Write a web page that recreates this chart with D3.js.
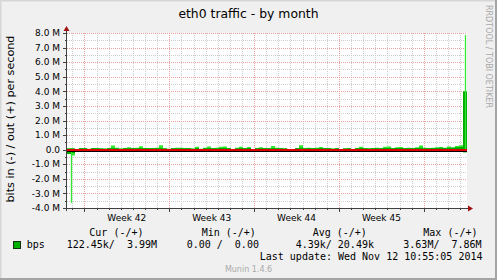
<!DOCTYPE html>
<html><head><meta charset="utf-8">
<script src="https://cdn.jsdelivr.net/npm/d3@7"></script>
<style>html,body{margin:0;padding:0;background:#f0f0f0}svg{display:block}</style>
</head><body><svg id="c" width="497" height="280"></svg>
<script>
const title = "eth0 traffic - by month";
const yAxisTitle = "bits in (-) / out (+) per second";
const sideText = "RRDTOOL / TOBI OETIKER";
const yTickValues = [-4,-3,-2,-1,0,1,2,3,4,5,6,7,8];
const yTickLabels = ["-4.0 M","-3.0 M","-2.0 M","-1.0 M","0.0","1.0 M","2.0 M","3.0 M","4.0 M","5.0 M","6.0 M","7.0 M","8.0 M"];
const weekStarts = ["2014-10-13","2014-10-20","2014-10-27","2014-11-03"];
const weekLabels = ["Week 42","Week 43","Week 44","Week 45"];
const rangeStart = "2014-10-11T13:30:00Z", rangeEnd = "2014-11-13T13:30:00Z";
// out (+) traffic in Mbit/s per bucket: peak (light) and average (dark)
const outPeak = [0.10,0.10,0.00,0.12,0.12,0.06,0.12,0.12,0.10,0.08,
 0.12,0.28,0.14,0.08,0.12,0.16,0.12,0.14,0.24,0.12,
 0.12,0.12,0.14,0.30,0.10,0.06,0.12,0.14,0.14,0.12,
 0.12,0.08,0.20,0.06,0.14,0.22,0.12,0.14,0.20,0.22,
 0.12,0.04,0.14,0.20,0.12,0.18,0.04,0.12,0.16,0.12,
 0.12,0.25,0.14,0.12,0.10,0.00,0.00,0.12,0.30,0.12,
 0.14,0.12,0.14,0.18,0.12,0.12,0.08,0.12,0.03,0.10,
 0.12,0.04,0.12,0.20,0.12,0.10,0.12,0.14,0.12,0.20,
 0.22,0.12,0.16,0.18,0.12,0.14,0.12,0.16,0.28,0.14,
 0.12,0.14,0.16,0.18,0.14,0.22,0.16,0.26,0.30,3.99];
const outAvg = [0.08,0.08,0.00,0.10,0.10,0.05,0.10,0.10,0.08,0.06,
 0.10,0.12,0.10,0.06,0.10,0.10,0.10,0.10,0.12,0.10,
 0.10,0.10,0.10,0.12,0.08,0.05,0.10,0.10,0.10,0.10,
 0.10,0.06,0.12,0.05,0.10,0.12,0.10,0.10,0.12,0.12,
 0.10,0.03,0.10,0.12,0.10,0.12,0.03,0.10,0.10,0.10,
 0.10,0.12,0.10,0.10,0.08,0.00,0.00,0.10,0.14,0.10,
 0.10,0.10,0.10,0.12,0.10,0.10,0.06,0.10,0.02,0.08,
 0.10,0.03,0.10,0.12,0.10,0.08,0.10,0.10,0.10,0.12,
 0.12,0.10,0.12,0.12,0.10,0.10,0.10,0.12,0.14,0.10,
 0.10,0.12,0.12,0.14,0.12,0.14,0.14,0.16,0.18,3.99];
// in (-) traffic in Mbit/s per bucket (drawn below zero)
const inPeak = [0.30,0.40,0,0,0,0,0,0,0,0, 0,0,0,0,0,0,0,0,0,0, 0,0,0,0,0,0,0,0,0,0, 0,0,0,0,0,0,0,0,0,0,
 0,0,0,0,0,0,0,0,0,0, 0,0,0,0,0,0,0,0,0,0, 0,0,0,0,0,0,0,0,0,0, 0,0,0,0,0,0,0,0,0,0,
 0,0,0,0,0,0,0,0,0,0, 0,0,0,0,0,0,0,0,0,0.18];
const inAvg = [0.30,0.22,0,0,0,0,0,0,0,0, 0,0,0,0,0,0,0,0,0,0, 0,0,0,0,0,0,0,0,0,0, 0,0,0,0,0,0,0,0,0,0,
 0,0,0,0,0,0,0,0,0,0, 0,0,0,0,0,0,0,0,0,0, 0,0,0,0,0,0,0,0,0,0, 0,0,0,0,0,0,0,0,0,0,
 0,0,0,0,0,0,0,0,0,0, 0,0,0,0,0,0,0,0,0,0.18];
const spikeTimes = ["2014-10-11T22:25:00Z","2014-11-13T10:30:00Z"];
const spikeValues = [-3.65, 7.86];
const legendHeaders = ["Cur (-/+)","Min (-/+)","Avg (-/+)","Max (-/+)"];
const legendValues = ["122.45k/  3.99M","0.00 /  0.00","4.39k/ 20.49k","3.63M/  7.86M"];
const seriesName = "bps";
const lastUpdate = "Last update: Wed Nov 12 10:55:05 2014";
const version = "Munin 1.4.6";

const svg = d3.select("#c");
const W = 497, H = 280;
const L = 67, R = 467, T = 33, B = 208;
const t0 = new Date(rangeStart), t1 = new Date(rangeEnd);
const x = d3.scaleUtc().domain([t0, t1]).range([L, R]);
const y = d3.scaleLinear().domain([-4, 8]).range([B, T]);

const darkG = "#00a800", lightG = "#2fe82f";
const minorC = "#cdcdcd", majorC = "#eaa2a2";

// frame
svg.append("rect").attr("width", W).attr("height", H).attr("fill", "#f0f0f0");
svg.append("path").attr("d", `M0,${H}V0H${W}`).attr("fill","none").attr("stroke","#d6d6d6").attr("stroke-width",3);
svg.append("path").attr("d", `M0,${H-1}H${W-1}V0`).attr("fill","none").attr("stroke","#a4a4a4").attr("stroke-width",2);
svg.append("rect").attr("x", L).attr("y", T).attr("width", R - L).attr("height", B - T).attr("fill", "#fff");

const g = svg.append("g").attr("shape-rendering", "crispEdges");
// minor grid
const days = d3.utcDay.range(d3.utcDay.ceil(t0), t1);
g.selectAll(".vd").data(days).join("line")
  .attr("x1", d => Math.round(x(d)) + 0.5).attr("x2", d => Math.round(x(d)) + 0.5)
  .attr("y1", T).attr("y2", B).attr("stroke", minorC).attr("stroke-dasharray", "1,1");
const halfTicks = y.ticks(24);
g.selectAll(".hm").data(halfTicks.filter(v => !yTickValues.includes(v))).join("line")
  .attr("x1", L).attr("x2", R).attr("y1", d => Math.round(y(d)) + 0.5).attr("y2", d => Math.round(y(d)) + 0.5)
  .attr("stroke", minorC).attr("stroke-dasharray", "1,1");
// major grid
const weeks = weekStarts.map(s => new Date(s + "T00:00:00Z"));
const weekLines = d3.utcMonday.range(d3.utcMonday.ceil(t0), t1);
g.selectAll(".vw").data(weekLines).join("line")
  .attr("x1", d => Math.round(x(d)) + 0.5).attr("x2", d => Math.round(x(d)) + 0.5)
  .attr("y1", T).attr("y2", B).attr("stroke", majorC).attr("stroke-dasharray", "1,1");
g.selectAll(".hM").data(yTickValues).join("line")
  .attr("x1", L).attr("x2", R).attr("y1", d => Math.round(y(d)) + 0.5).attr("y2", d => Math.round(y(d)) + 0.5)
  .attr("stroke", majorC).attr("stroke-dasharray", "1,1");

// data
const n = outPeak.length;
const step = (t1 - t0) / n;
const tb = i => new Date(t0.getTime() + i * step);
function stepArea(vals, sign, color) {
  const pts = vals.map((v, i) => ({t: tb(i), v: sign * v}));
  pts.push({t: t1, v: sign * vals[n - 1]});
  const a = d3.area().curve(d3.curveStepAfter).x(d => x(d.t)).y0(y(0)).y1(d => y(d.v));
  svg.append("path").datum(pts).attr("d", a).attr("fill", color);
}
stepArea(outPeak, 1, lightG);
stepArea(inPeak, -1, lightG);
stepArea(outAvg, 1, darkG);
stepArea(inAvg, -1, darkG);
svg.selectAll(".spk").data(spikeTimes.map((s, i) => ({t: new Date(s), v: spikeValues[i]}))).join("line")
  .attr("x1", d => x(d.t)).attr("x2", d => x(d.t)).attr("y1", y(0)).attr("y2", d => y(d.v))
  .attr("stroke", lightG).attr("stroke-width", 1.3);

// zero rule
svg.append("line").attr("x1", L).attr("x2", R).attr("y1", 150).attr("y2", 150)
  .attr("stroke", "#e00000").attr("stroke-width", 2).attr("shape-rendering","crispEdges");
svg.append("line").attr("x1", L).attr("x2", R).attr("y1", 151.5).attr("y2", 151.5)
  .attr("stroke", "#000").attr("stroke-width", 1).attr("shape-rendering","crispEdges");

// axes
const axC = "#404040";
const ax = svg.append("g").attr("shape-rendering", "crispEdges");
ax.append("line").attr("x1", L - 3).attr("x2", R + 2).attr("y1", B + 0.5).attr("y2", B + 0.5).attr("stroke", axC);
ax.append("line").attr("x1", L - 0.5).attr("x2", L - 0.5).attr("y1", B + 3).attr("y2", T - 3).attr("stroke", axC);
ax.selectAll(".yt").data(yTickValues).join("line")
  .attr("x1", L - 4).attr("x2", L).attr("y1", d => Math.round(y(d)) + 0.5).attr("y2", d => Math.round(y(d)) + 0.5).attr("stroke", axC);
ax.selectAll(".ytm").data(halfTicks.filter(v => !yTickValues.includes(v))).join("line")
  .attr("x1", L - 2).attr("x2", L).attr("y1", d => Math.round(y(d)) + 0.5).attr("y2", d => Math.round(y(d)) + 0.5).attr("stroke", axC);
ax.selectAll(".xt").data(days).join("line")
  .attr("x1", d => Math.round(x(d)) + 0.5).attr("x2", d => Math.round(x(d)) + 0.5).attr("y1", B).attr("y2", B + 2).attr("stroke", axC);
ax.selectAll(".xw").data(weekLines).join("line")
  .attr("x1", d => Math.round(x(d)) + 0.5).attr("x2", d => Math.round(x(d)) + 0.5).attr("y1", B).attr("y2", B + 4).attr("stroke", axC);
// arrows
svg.append("path").attr("d", `M${R+1},${B-2.5}L${R+6},${B+0.5}L${R+1},${B+3.5}Z`).attr("fill", "#a01010");
svg.append("path").attr("d", `M${L-3.5},${T-2}L${L-0.5},${T-7}L${L+2.5},${T-2}Z`).attr("fill", "#a01010");

// tick labels
svg.append("g").selectAll("text").data(yTickValues).join("text")
  .attr("x", 60).attr("y", d => y(d)).attr("dy", "0.36em").attr("text-anchor", "end")
  .attr("font-family", "DejaVu Sans").attr("font-size", 9).attr("fill", "#000")
  .text((d, i) => yTickLabels[i]);
svg.append("g").selectAll("text").data(weeks).join("text")
  .attr("x", d => x(d3.utcHour.offset(d, 84))).attr("y", 221).attr("text-anchor", "middle")
  .attr("font-family", "DejaVu Sans").attr("font-size", 9).attr("fill", "#000")
  .text((d, i) => weekLabels[i]);

// titles
svg.append("text").attr("x", 248.5).attr("y", 18).attr("text-anchor", "middle")
  .attr("font-family", "DejaVu Sans").attr("font-size", 12.4).attr("fill", "#000").text(title);
svg.append("text").attr("transform", "translate(13.5,119) rotate(-90)").attr("text-anchor", "middle")
  .attr("font-family", "DejaVu Sans").attr("font-size", 11.2).attr("fill", "#000").text(yAxisTitle);
svg.append("text").attr("transform", "translate(485.5,5) rotate(90)").attr("text-anchor", "start")
  .attr("font-family", "DejaVu Sans").attr("font-size", 8).attr("fill", "#a8a8a8").text(sideText);

// legend
const mono = "DejaVu Sans Mono";
const hdrX = [89.3, 201.7, 312.7, 423.3];
const valX = [66.7, 186.7, 295.7, 403.3];
legendHeaders.forEach((h, i) => svg.append("text").attr("x", hdrX[i]).attr("y", 236)
  .attr("font-family", mono).attr("font-size", 10).attr("xml:space","preserve").style("white-space","pre").text(h));
legendValues.forEach((v, i) => svg.append("text").attr("x", valX[i]).attr("y", 248)
  .attr("font-family", mono).attr("font-size", 10).style("white-space","pre").text(v));
svg.append("rect").attr("x", 13.5).attr("y", 241.5).attr("width", 7).attr("height", 7)
  .attr("fill", "#00b000").attr("stroke", "#113311").attr("stroke-width", 1);
svg.append("text").attr("x", 26.7).attr("y", 248).attr("font-family", mono).attr("font-size", 10).text(seriesName);
svg.append("text").attr("x", 482.5).attr("y", 260).attr("text-anchor", "end")
  .attr("font-family", mono).attr("font-size", 10).style("white-space","pre").text(lastUpdate);
svg.append("text").attr("x", 248.5).attr("y", 272).attr("text-anchor", "middle")
  .attr("font-family", "DejaVu Sans").attr("font-size", 8).attr("fill", "#aaaaaa").text(version);
</script></body></html>
